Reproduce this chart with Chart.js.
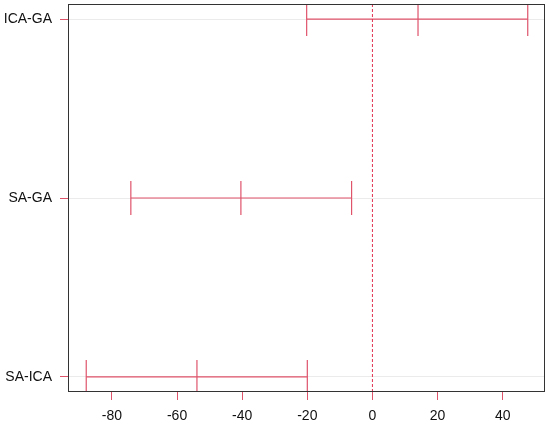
<!DOCTYPE html>
<html>
<head>
  <meta charset="UTF-8">
  <title>Tukey HSD intervals</title>
  <script src="https://cdn.jsdelivr.net/npm/chart.js"></script>
  <style>
    body { margin: 0; background: #fff; }
    canvas { display: block; }
  </style>
</head>
<body>
  <canvas id="myChart" width="550" height="427"></canvas>
  <script>
    // comparisons, bottom to top (y = 1, 2, 3)
    const comparisons = ['SA-ICA', 'SA-GA', 'ICA-GA'];
    const lowerBound = [-87.9, -74.2, -20.2];
    const meanDiff   = [-53.9, -40.4, 14.0];
    const upperBound = [-20.0, -6.4, 47.7];
    const xTickValues = [-80, -60, -40, -20, 0, 20, 40];

    const red = '#DF536B';
    const yMin = 0.916, yMax = 3.084;

    const intervalSets = comparisons.map((name, i) => ({
      label: name,
      data: [
        { x: lowerBound[i], y: i + 1 },
        { x: meanDiff[i], y: i + 1 },
        { x: upperBound[i], y: i + 1 }
      ],
      showLine: true,
      borderColor: red,
      backgroundColor: red,
      borderWidth: 1.2,
      pointStyle: 'line',
      pointRotation: 90,
      pointRadius: 17,
      pointBorderWidth: 1.2
    }));

    // dashed line at zero
    const zeroLine = {
      label: 'zero',
      data: [{ x: 0, y: yMin }, { x: 0, y: yMax }],
      showLine: true,
      borderColor: '#E0304F',
      borderWidth: 1,
      borderDash: [3, 2],
      pointRadius: 0
    };

    const frame = {
      id: 'frame',
      afterDraw(chart) {
        const a = chart.chartArea, c = chart.ctx;
        c.save();
        c.strokeStyle = '#333';
        c.lineWidth = 1;
        c.strokeRect(a.left + 0.5, a.top + 0.5, a.right - a.left - 1, a.bottom - a.top - 1);
        c.restore();
      }
    };

    function noPad(s) {
      s.paddingLeft = s.paddingRight = s.paddingTop = s.paddingBottom = 0;
    }

    new Chart(document.getElementById('myChart'), {
      type: 'scatter',
      data: { datasets: [zeroLine, ...intervalSets] },
      options: {
        responsive: false,
        animation: false,
        events: [],
        layout: { autoPadding: false, padding: { top: 4, right: 5 } },
        plugins: { legend: { display: false }, tooltip: { enabled: false } },
        scales: {
          x: {
            type: 'linear',
            min: -93.5,
            max: 53,
            afterBuildTicks: s => { s.ticks = xTickValues.map(v => ({ value: v })); },
            afterFit: s => { s.height = 35; noPad(s); },
            grid: { drawOnChartArea: false, tickColor: red, tickLength: 8 },
            border: { display: false },
            ticks: { color: '#111', padding: 8, font: { family: 'Liberation Sans, Arial', size: 14 } }
          },
          y: {
            type: 'linear',
            min: yMin,
            max: yMax,
            afterBuildTicks: s => { s.ticks = comparisons.map((n, i) => ({ value: i + 1 })); },
            afterFit: s => { s.width = 68; noPad(s); },
            grid: { color: '#ebebeb', tickColor: red, tickLength: 8 },
            border: { display: false },
            ticks: {
              color: '#111',
              padding: 8,
              font: { family: 'Liberation Sans, Arial', size: 14 },
              callback: v => comparisons[Math.round(v) - 1]
            }
          }
        }
      },
      plugins: [frame]
    });
  </script>
</body>
</html>
